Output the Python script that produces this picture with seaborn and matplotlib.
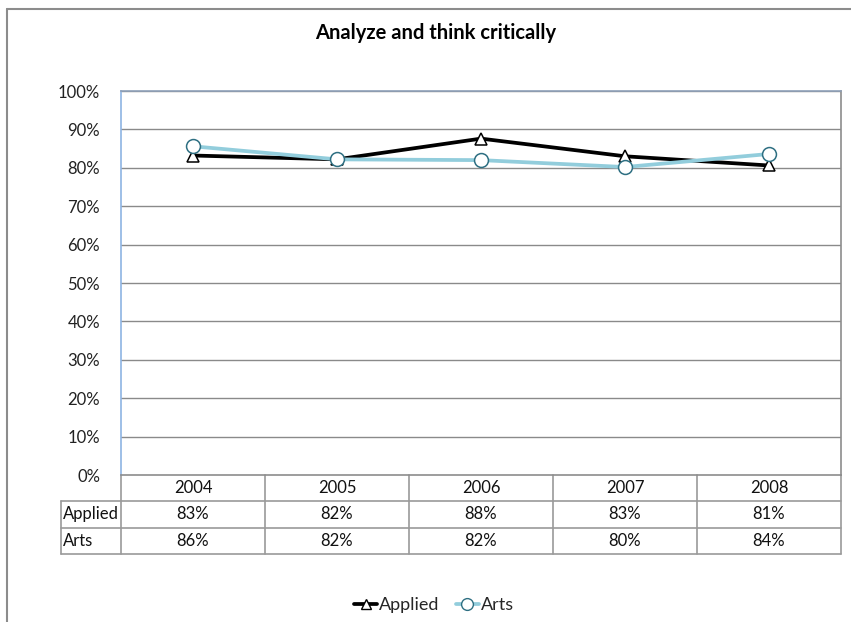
import matplotlib
matplotlib.use("Agg")
import matplotlib.pyplot as plt
import matplotlib.transforms as mtransforms
from matplotlib.lines import Line2D
import pandas as pd
import seaborn as sns

# Survey results by year
years = ["2004", "2005", "2006", "2007", "2008"]
applied = [83.2, 82.2, 87.6, 83.0, 80.6]
arts = [85.6, 82.2, 82.0, 80.2, 83.6]
series_names = ["Applied", "Arts"]
y_ticks = [0, 10, 20, 30, 40, 50, 60, 70, 80, 90, 100]
title = "Analyze and think critically"

sns.set_theme(style="white")
plt.rcParams["font.family"] = ["Lato", "DejaVu Sans"]

W, H = 851, 622
fig = plt.figure(figsize=(W / 100, H / 100), dpi=100)

# Chart-area border (runs off the right and bottom edges)
fig.add_artist(plt.Line2D([7 / W, 7 / W], [0, 1 - 9 / H], color="#8c8c8c", lw=1.5))
fig.add_artist(plt.Line2D([7 / W, 1], [1 - 9 / H, 1 - 9 / H], color="#8c8c8c", lw=1.5))

left, right, top, bottom = 121, 841, 91, 475
ax = fig.add_axes([left / W, 1 - bottom / H, (right - left) / W, (bottom - top) / H])

df = pd.DataFrame({
    "x": list(range(len(years))) * 2,
    "value": applied + arts,
    "series": [series_names[0]] * len(years) + [series_names[1]] * len(years),
})

colors = {"Applied": "#000000", "Arts": "#92cddc"}
markers = {"Applied": "^", "Arts": "o"}
edge = {"Applied": "#000000", "Arts": "#2e6f82"}
msize = {"Applied": 9, "Arts": 10}

for name in series_names:
    sub = df[df["series"] == name]
    sns.lineplot(data=sub, x="x", y="value", ax=ax, color=colors[name], lw=2.7,
                 marker=markers[name], markersize=msize[name],
                 markerfacecolor="white", markeredgecolor=edge[name],
                 markeredgewidth=1.1, legend=False, zorder=3)

ax.set_xlim(-0.5, len(years) - 0.5)
ax.set_ylim(0, 100)
ax.set_yticks(y_ticks)
ax.set_yticklabels([f"{t}%" for t in y_ticks], fontsize=12, color="#222222")
ax.set_xticks([])
ax.set_xlabel("")
ax.set_ylabel("")
ax.tick_params(axis="y", length=0, pad=15)
for t in y_ticks[1:]:
    ax.axhline(t, color="#8a8a8a", lw=1.0, zorder=1)

ax.spines["left"].set_color("#8eb4e3")
ax.spines["top"].set_color("#8ea0b8")
ax.spines["right"].set_color("#8c8c8c")
ax.spines["bottom"].set_color("#8c8c8c")
for s in ax.spines.values():
    s.set_linewidth(1.2)

# Data table below the plot area
trans = mtransforms.blended_transform_factory(ax.transData, ax.transAxes)
ph = bottom - top
row_h = 26.3 / ph
grid_kw = dict(color="#9a9a9a", lw=1.2, clip_on=False, transform=trans)
n = len(years)
col_px = (right - left) / n
label_left = -0.5 - (left - 61) / col_px

ys = [0, -row_h, -2 * row_h, -3 * row_h]
# horizontal rules
ax.plot([label_left, n - 0.5], [ys[1], ys[1]], **grid_kw)
ax.plot([label_left, n - 0.5], [ys[2], ys[2]], **grid_kw)
ax.plot([label_left, n - 0.5], [ys[3], ys[3]], **grid_kw)
# vertical rules
for i in range(n + 1):
    ax.plot([i - 0.5, i - 0.5], [0, ys[3]], **grid_kw)
ax.plot([label_left, label_left], [ys[1], ys[3]], **grid_kw)

txt_kw = dict(transform=trans, fontsize=12, color="#111111", va="center", clip_on=False)
for i, yr in enumerate(years):
    ax.text(i, -0.5 * row_h, yr, ha="center", **txt_kw)
    ax.text(i, -1.5 * row_h, f"{applied[i]:.0f}%", ha="center", **txt_kw)
    ax.text(i, -2.5 * row_h, f"{arts[i]:.0f}%", ha="center", **txt_kw)
ax.text(label_left + 2 / col_px, -1.5 * row_h, series_names[0], ha="left", **txt_kw)
ax.text(label_left + 2 / col_px, -2.5 * row_h, series_names[1], ha="left", **txt_kw)

fig.text(436 / W, 1 - 33 / H, title, ha="center", va="center",
         fontsize=14.5, fontweight="bold", color="#000000")

handles = [
    Line2D([], [], color=colors[nm], lw=2.7, marker=markers[nm], markersize=msize[nm] - 1.5,
           markerfacecolor="white", markeredgecolor=edge[nm], markeredgewidth=1.0)
    for nm in series_names
]
fig.legend(handles, series_names, loc="center", bbox_to_anchor=(434 / W, 1 - 605 / H),
           ncol=2, frameon=False, fontsize=13, handlelength=1.3, handletextpad=0.1,
           columnspacing=0.9)

fig.savefig("out.png", dpi=100, facecolor="white")
